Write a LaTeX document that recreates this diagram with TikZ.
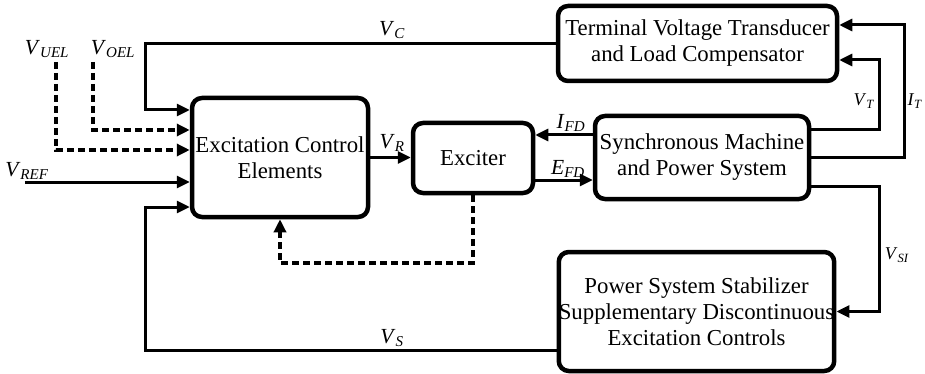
\documentclass[tikz,border=0pt]{standalone}
\usepackage{fontspec}
\setmainfont{Liberation Serif}
\usetikzlibrary{arrows.meta,calc}
\newcommand{\sig}[2]{\textit{#1}\textsubscript{\textit{#2}}}
\tikzset{
 box/.style={draw,line width=4.5pt,rounded corners=10pt,align=center,font=\fontsize{22.8}{26}\selectfont,inner sep=0pt},
 arr/.style={-{Triangle[length=13pt,width=12pt]},line width=3pt},
 dep/.style={arr,line width=4pt,dash pattern=on 7pt off 4pt},
 lbl/.style={font=\fontsize{21.5}{24}\selectfont,inner sep=0pt},
 slbl/.style={lbl,font=\fontsize{18}{20}\selectfont}
}
\begin{document}
\begin{tikzpicture}[x=1pt,y=-1pt]
\useasboundingbox (0,0) rectangle (925,374);
\node[box,minimum width=176pt,minimum height=119pt] (ece) at (280,157.5) {Excitation Control\\Elements};
\node[box,minimum width=120pt,minimum height=70pt] (exc) at (473,158) {Exciter};
\node[box,minimum width=214pt,minimum height=83pt] (sm) at (702,157.5) {Synchronous Machine\\and Power System};
\node[box,minimum width=279pt,minimum height=75pt] (tvt) at (697.5,43.5) {Terminal Voltage Transducer\\and Load Compensator};
\node[box,minimum width=271pt,minimum height=119pt] (pss) at (696.5,311.5) {Power System Stabilizer\\Supplementary Discontinuous\\Excitation Controls};
\coordinate (c1) at ([yshift=47.5pt]ece.west);
\coordinate (c2) at ([yshift=27.5pt]ece.west);
\coordinate (c3) at ([yshift=7.5pt]ece.west);
\coordinate (c4) at ([yshift=-24.5pt]ece.west);
\coordinate (c5) at ([yshift=-49.5pt]ece.west);
\coordinate (oel) at (93,62);
\coordinate (uel) at (56,62);
\coordinate (ref) at ([xshift=-165pt]c4);
\coordinate (fb) at (473,263);
\draw[arr] (tvt.west) -| ([xshift=-44pt]c1) -- (c1);
\draw[dep] (oel) |- (c2);
\draw[dep] (uel) |- (c3);
\draw[arr] (ref) -- (c4);
\draw[arr] ([yshift=-38.5pt]pss.west) -| ([xshift=-44pt]c5) -- (c5);
\draw[dep] (exc.south) -- (fb) -| (ece.south);
\draw[arr] (ece.east) -- (ece.east -| exc.west);
\draw[arr] ([yshift=22.5pt]sm.west) -- ([yshift=22.5pt]sm.west -| exc.east);
\draw[arr] ([yshift=-22.5pt]sm.west -| exc.east) -- ([yshift=-22.5pt]sm.west);
\draw[arr] ([yshift=27.5pt]sm.east) -- ++(68,0) |- ([yshift=-16.5pt]tvt.east);
\draw[arr] (sm.east) -- ++(93,0) |- ([yshift=18.5pt]tvt.east);
\draw[arr] ([yshift=-28.5pt]sm.east) -- ++(68,0) |- (pss.east);
\node[lbl] (vc) at (392,30) {\sig{V}{C}};
\node[lbl] (vs) at (392,338) {\sig{V}{S}};
\node[lbl] (vr) at (392,143) {\sig{V}{R}};
\node[lbl] (ifd) at (571,123) {\sig{I}{FD}};
\node[lbl] (efd) at (568,169) {\sig{E}{FD}};
\node[lbl] (vuel) at (47,49) {\sig{V}{UEL}};
\node[lbl] (voel) at (113,49) {\sig{V}{OEL}};
\node[lbl] (vref) at (27,171) {\sig{V}{REF}};
\node[slbl] (vt) at (864,101) {\sig{V}{T}};
\node[slbl] (it) at (915,101) {\sig{I}{T}};
\node[slbl] (vsi) at (897,255) {\sig{V}{SI}};
\end{tikzpicture}
\end{document}
